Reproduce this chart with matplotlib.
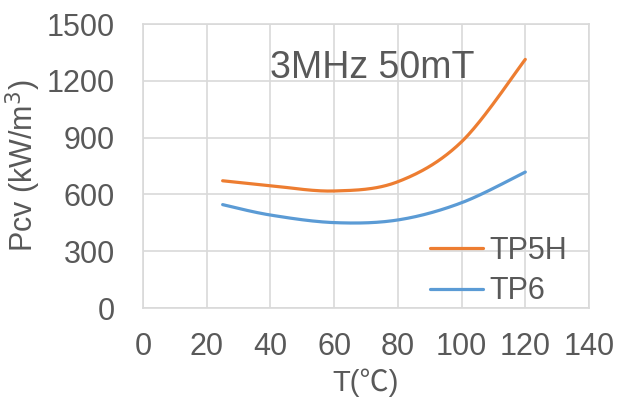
import matplotlib.pyplot as plt
import numpy as np

plt.rcParams['font.family'] = ['Liberation Sans', 'DejaVu Sans']

# data
temps = [25, 40, 60, 80, 100, 120]
tp5h = [672, 646, 618, 667, 878, 1313]
tp6 = [546, 491, 451, 465, 556, 718]
x_ticks = [0, 20, 40, 60, 80, 100, 120, 140]
y_ticks = [0, 300, 600, 900, 1200, 1500]

grey = '#595959'
grid_c = '#D9D9D9'
narrow = ['Liberation Sans Narrow', 'Liberation Sans', 'DejaVu Sans']


def smooth(x, y, n=40):
    # Excel-like smoothed line (Catmull-Rom style bezier)
    x = np.asarray(x, float)
    y = np.asarray(y, float)
    px = np.concatenate([[x[0]], x, [x[-1]]])
    py = np.concatenate([[y[0]], y, [y[-1]]])
    xs, ys = [], []
    t = np.linspace(0, 1, n)
    for i in range(1, len(px) - 2):
        p0 = np.array([px[i], py[i]])
        p3 = np.array([px[i + 1], py[i + 1]])
        p1 = p0 + (np.array([px[i + 1], py[i + 1]]) - np.array([px[i - 1], py[i - 1]])) / 6
        p2 = p3 - (np.array([px[i + 2], py[i + 2]]) - np.array([px[i], py[i]])) / 6
        b = ((1 - t) ** 3)[:, None] * p0 + (3 * (1 - t) ** 2 * t)[:, None] * p1 \
            + (3 * (1 - t) * t ** 2)[:, None] * p2 + (t ** 3)[:, None] * p3
        xs.extend(b[:, 0])
        ys.extend(b[:, 1])
    return xs, ys


fig = plt.figure(figsize=(6.18, 4.01), dpi=100)
ax = fig.add_axes([143 / 618, 1 - 308 / 401, (589 - 143) / 618, (308 - 24) / 401])

sx, sy = smooth(temps, tp5h)
ax.plot(sx, sy, color='#ED7D31', linewidth=2.3, label='TP5H', solid_capstyle='round')
sx, sy = smooth(temps, tp6)
ax.plot(sx, sy, color='#5B9BD5', linewidth=2.3, label='TP6', solid_capstyle='round')

ax.set_xlim(0, 140)
ax.set_ylim(0, 1500)
ax.set_xticks(x_ticks)
ax.set_yticks(y_ticks)
ax.grid(True, color=grid_c, linewidth=1.2)
ax.set_axisbelow(True)
for s in ax.spines.values():
    s.set_color(grid_c)
    s.set_linewidth(1.2)
ax.tick_params(axis='both', length=0, colors=grey)
ax.tick_params(axis='y', labelsize=22, pad=20)
ax.tick_params(axis='x', pad=17)
for lb in ax.get_xticklabels():
    lb.set_family(narrow)
    lb.set_fontsize(22)

ax.set_xlabel('T(℃)', fontsize=21, color=grey, labelpad=5,
              family=['Liberation Sans Narrow', 'Liberation Sans', 'Noto Sans CJK SC', 'DejaVu Sans'])
ax.set_ylabel('Pcv (kW/m$^3$)', fontsize=22, color=grey, labelpad=3)

ax.text(72, 1268, '3MHz 50mT', fontsize=27, color=grey, ha='center', va='center')

leg = ax.legend(loc='center left', bbox_to_anchor=(0.6435, 0.13), frameon=False,
                borderpad=0, borderaxespad=0,
                fontsize=22, labelcolor=grey, handlelength=1.75, handletextpad=0.2,
                labelspacing=0.35)

fig.savefig('out.png', dpi=100)
